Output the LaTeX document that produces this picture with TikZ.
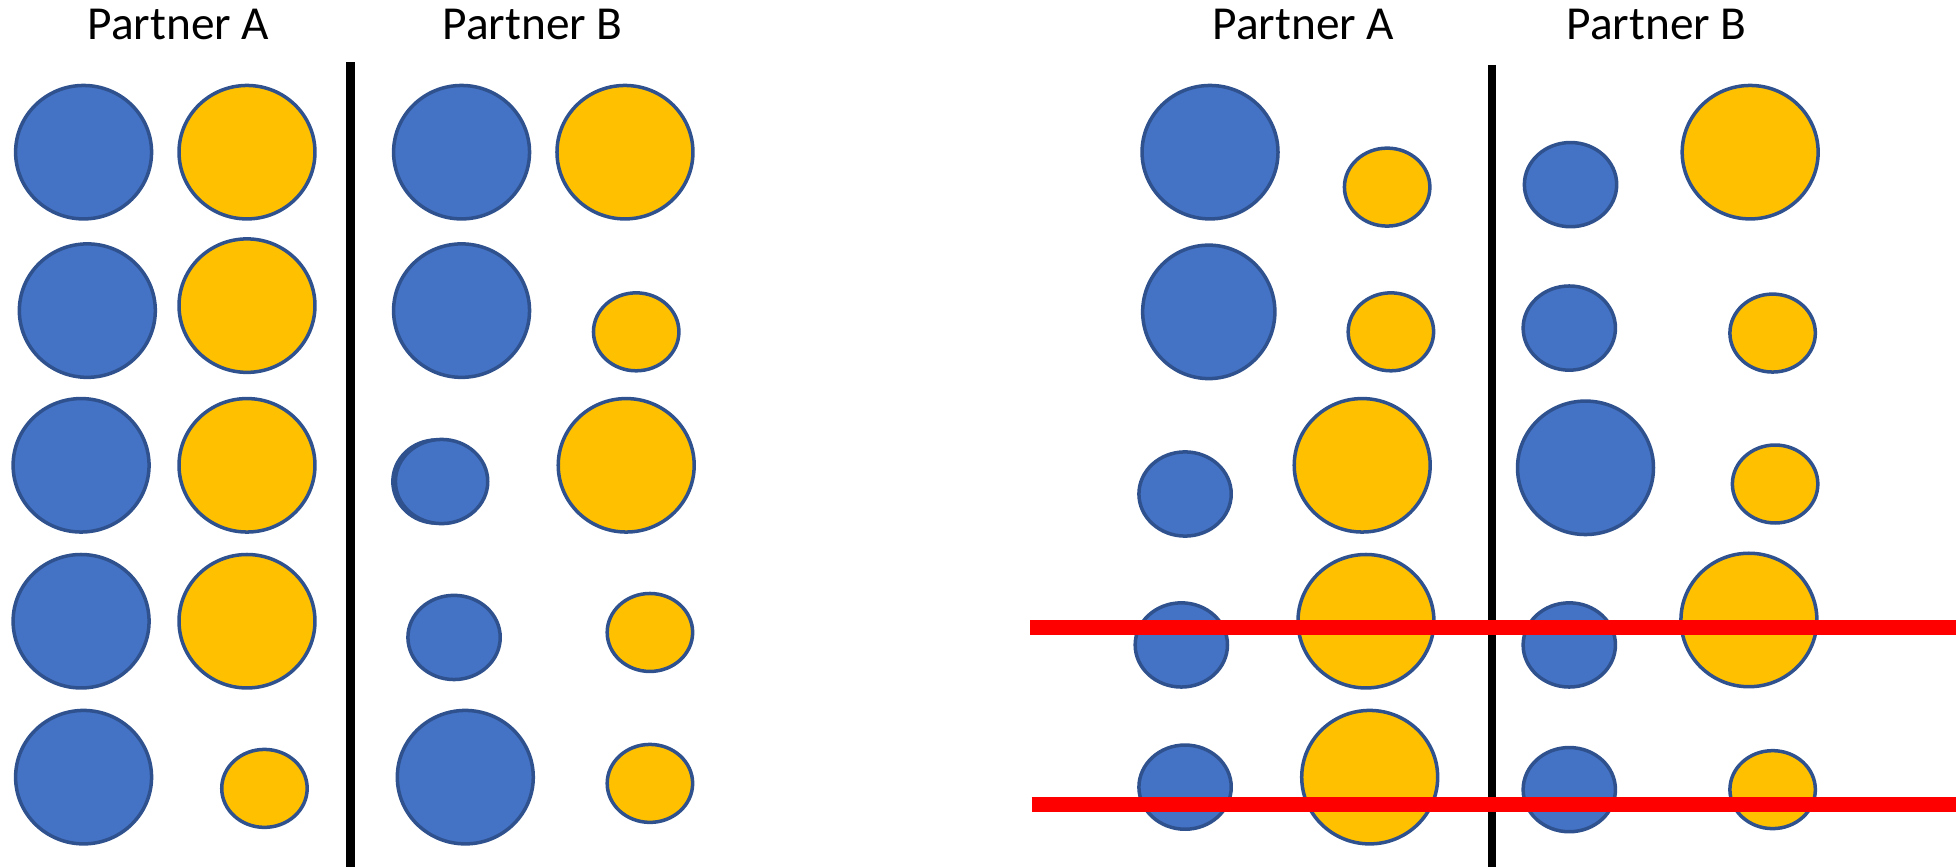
\documentclass[tikz,border=0pt]{standalone}
\usepackage{fontspec}
\setmainfont{Carlito}
\usetikzlibrary{shapes.geometric}
\definecolor{cblue}{HTML}{4472C4}
\definecolor{cyellow}{HTML}{FFC000}
\definecolor{cedge}{HTML}{2F528F}
\definecolor{cred}{HTML}{FF0000}
\tikzset{
  blob/.style={ellipse, draw=cedge, line width=0.8pt, inner sep=0pt},
  bl/.style={blob, fill=cblue},
  yl/.style={blob, fill=cyellow},
  big/.style={minimum width=10.9mm, minimum height=10.7mm},
  smy/.style={minimum width=6.85mm, minimum height=6.25mm},
  smb/.style={minimum width=7.4mm, minimum height=6.75mm},
  head/.style={font=\fontsize{10.8pt}{13pt}\selectfont, anchor=base, inner sep=0pt},
  divider/.style={line width=1.9pt, black},
  cross/.style={line width=3.5pt, cred}
}
\begin{document}
\begin{tikzpicture}[x=0.1mm, y=-0.1mm]
\useasboundingbox (0,0) rectangle (1568,695);
% headings
\node[head] (hLA) at (143,32) {Partner A};
\node[head] (hLB) at (427,32) {Partner B};
\node[head] (hRA) at (1045,32) {Partner A};
\node[head] (hRB) at (1328,32) {Partner B};
% dividers
\coordinate (dLt) at (281,50); \coordinate (dLb) at (281,695);
\coordinate (dRt) at (1196,52); \coordinate (dRb) at (1196,695);
\draw[divider] (dLt) -- (dLb);
\draw[divider] (dRt) -- (dRb);
% left panel, partner A
\node[bl,big] (la1b) at (67,122) {};  \node[yl,big] (la1y) at (198,122) {};
\node[bl,big] (la2b) at (70,249) {};  \node[yl,big] (la2y) at (198,245) {};
\node[bl,big] (la3b) at (65,373) {};  \node[yl,big] (la3y) at (198,373) {};
\node[bl,big] (la4b) at (65,498) {};  \node[yl,big] (la4y) at (198,498) {};
\node[bl,big] (la5b) at (67,623) {};  \node[yl,smy] (la5y) at (212,632) {};
% left panel, partner B
\node[bl,big] (lb1b) at (370,122) {}; \node[yl,big] (lb1y) at (501,122) {};
\node[bl,big] (lb2b) at (370,249) {}; \node[yl,smy] (lb2y) at (510,266) {};
\node[ellipse, fill=cedge, minimum width=7.3mm, minimum height=6.95mm, inner sep=0pt] (lb3s) at (350,386) {};
\node[bl,smb] (lb3b) at (354,386) {}; \node[yl,big] (lb3y) at (502,373) {};
\node[bl,smb] (lb4b) at (364,511) {}; \node[yl,smy] (lb4y) at (521,507) {};
\node[bl,big] (lb5b) at (373,623) {}; \node[yl,smy] (lb5y) at (521,628) {};
% right panel, partner A
\node[bl,big] (ra1b) at (970,122) {}; \node[yl,smy] (ra1y) at (1112,150) {};
\node[bl,big,minimum width=10.6mm] (ra2b) at (969,250) {}; \node[yl,smy] (ra2y) at (1115,266) {};
\node[bl,smb] (ra3b) at (950,396) {}; \node[yl,big] (ra3y) at (1092,373) {};
\node[bl,smb] (ra4b) at (947,517) {}; \node[yl,big] (ra4y) at (1095,498) {};
\node[bl,smb] (ra5b) at (950,631) {}; \node[yl,big] (ra5y) at (1098,623) {};
% right panel, partner B
\node[bl,smb] (rb1b) at (1259,148) {}; \node[yl,big] (rb1y) at (1403,122) {};
\node[bl,smb] (rb2b) at (1258,263) {}; \node[yl,smy] (rb2y) at (1421,267) {};
\node[bl,big] (rb3b) at (1271,375) {}; \node[yl,smy] (rb3y) at (1423,388) {};
\node[bl,smb] (rb4b) at (1258,517) {}; \node[yl,big] (rb4y) at (1402,497) {};
\node[bl,smb] (rb5b) at (1258,633) {}; \node[yl,smy] (rb5y) at (1421,633) {};
% red cross-out lines
\coordinate (x1l) at (826,503); \coordinate (x1r) at (1568,503);
\coordinate (x2l) at (827,645); \coordinate (x2r) at (1568,645);
\draw[cross] (x1l) -- (x1r);
\draw[cross] (x2l) -- (x2r);
\end{tikzpicture}
\end{document}
